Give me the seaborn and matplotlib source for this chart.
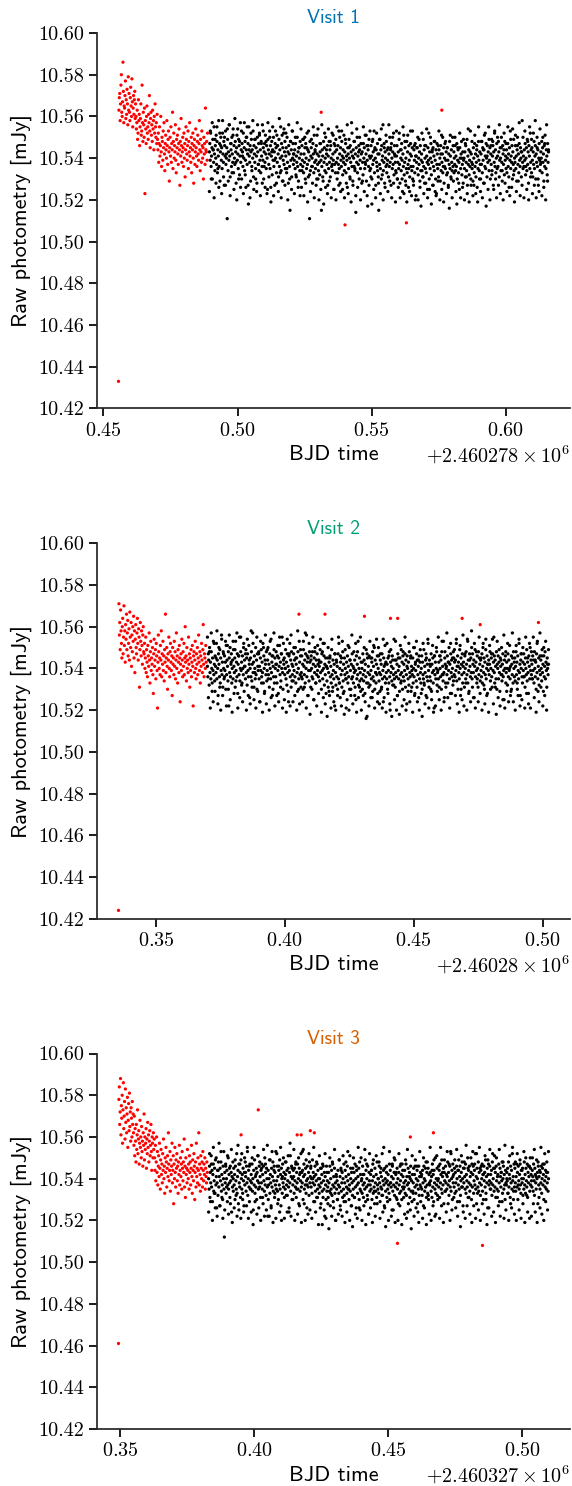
import numpy as np
import pandas as pd
import matplotlib
matplotlib.use("Agg")
import matplotlib.pyplot as plt
import seaborn as sns
from matplotlib.ticker import MultipleLocator, ScalarFormatter, FormatStrFormatter

# ---------------- data ----------------
# Flux values are stored as offsets from FLUX_BASE in units of 1e-3 mJy.
FLUX_BASE = 10.5
VISIT_TITLES = ["Visit 1", "Visit 2", "Visit 3"]
VISIT_COLORS = ["#0173B2", "#029E73", "#D55E00"]
Y_TICKS = [10.42, 10.44, 10.46, 10.48, 10.50, 10.52, 10.54, 10.56, 10.58, 10.60]

# Visit 1 -------------------------------------------------------------
V1_RAMP_T = (2460278.4556, 2460278.4888)   # trimmed start (red)
V1_KEPT_T = (2460278.4895, 2460278.6160)   # kept data (black)
V1_RAMP = [-67,
    63,69,71,58,66,75,80,62,60,67,86,72,57,65,64,70,77,59,68,61,
    73,66,56,79,63,71,62,58,69,74,65,60,78,67,55,64,70,61,68,72,
    59,66,
    60,54,57,63,49,52,68,58,61,46,55,59,66,51,53,75,57,48,62,56,
    50,64,23,58,54,47,60,65,52,55,49,61,57,70,53,45,59,62,51,56,
    48,63,54,58,44,60,52,66,55,50,57,47,61,
    49,44,52,38,47,55,41,46,60,43,36,50,48,39,53,45,57,42,34,47,
    51,44,40,58,46,37,49,53,43,29,45,50,41,55,38,47,44,62,35,48,
    52,40,46,43,56,39,33,49,45,51,42,37,47,54,44,27,48,41,59,46,
    38,43,50,45,36,52,40,47,31,44,55,49,42,39,46,53,35,48,43,57,
    41,45,38,50,33,47,44,52,40,28,46,49,37,43,54,45,41,36,48,51,
    42,39,47,58,44,34,49,43,38,53,46,40,45,30,50,42,47,37,64,44,
    43,48,39,52]
V1_KEPT = [
    43,47,39,52,36,41,45,30,49,44,38,55,42,34,46,40,51,37,48,33,
    44,41,58,36,47,29,43,50,39,45,35,52,42,38,48,27,46,41,53,37,
    40,45,11,49,34,43,39,56,41,31,47,44,36,50,42,38,54,33,46,40,
    37,48,43,28,45,51,39,42,35,49,46,32,41,57,38,44,30,47,43,36,
    52,40,45,34,48,39,26,44,50,37,42,47,18,55,41,38,46,29,43,49,
    36,44,40,53,31,46,42,38,49,35,45,41,28,50,43,37,47,34,52,39,
    44,33,48,41,36,56,39,45,30,43,47,38,51,42,35,46,40,25,49,44,
    37,42,53,35,46,19,41,48,32,44,39,50,36,43,27,47,40,45,33,51,
    38,46,42,31,49,36,44,40,55,34,47,41,29,45,39,52,37,43,48,35,
    41,45,33,50,38,43,28,46,42,36,15,48,39,44,31,53,40,47,37,42,
    39,44,35,47,32,41,38,50,36,43,29,45,40,34,48,37,42,26,46,39,
    36,49,33,42,38,45,30,47,40,35,52,37,44,31,43,39,11,48,34,41,
    45,36,40,28,47,42,33,51,38,44,35,39,46,30,42,37,54,34,41,38,
    32,43,47,39,15,36,44,41,29,48,38,45,34,40,50,33,42,37,46,27,
    41,35,48,38,44,31,46,40,36,52,34,42,39,25,47,37,43,33,49,38,
    44,30,40,46,37,53,35,42,28,45,39,36,48,41,32,44,38,51,34,43,
    37,47,33,41,39,26,45,42,35,49,40,31,46,38,43,57,36,41,29,44,
    40,36,48,34,42,14,45,38,50,33,41,37,46,30,44,39,35,47,42,28,
    43,38,32,47,40,45,35,51,37,42,29,46,39,17,44,36,49,41,34,40,
    35,46,41,30,48,37,43,39,53,33,45,40,27,44,38,36,47,42,31,15,
    42,37,49,35,44,30,46,39,41,56,34,38,45,28,43,40,36,48,33,44,
    39,45,31,42,36,50,38,44,27,47,40,35,43,37,52,32,46,41,38,34,
    33,41,46,30,38,43,35,49,37,28,44,40,34,47,39,24,42,36,51,32,
    38,45,29,40,35,48,33,43,37,26,46,39,31,42,53,36,41,34,45,30,
    36,27,44,39,33,47,41,22,38,45,35,50,32,40,37,43,29,46,34,39,
    42,34,38,31,49,36,44,28,40,35,46,33,41,38,25,45,37,52,30,43,
    35,40,47,32,38,43,27,45,36,41,34,48,39,30,44,23,37,42,35,46,
    31,44,37,40,29,46,34,51,38,42,33,36,45,28,40,47,35,39,43,32,
    45,33,39,26,42,37,48,35,41,31,44,38,34,50,36,29,43,40,37,46,
    34,41,36,47,30,39,44,33,38,25,45,40,35,42,48,32,37,43,28,39,
    40,35,43,31,46,38,34,49,27,41,37,44,32,39,36,53,30,42,38,35,
    37,29,45,40,33,47,36,42,31,38,44,26,41,35,48,39,34,43,37,30,
    42,37,48,33,45,39,28,44,51,36,41,35,47,40,31,46,38,43,55,34,
    39,45,30,42,37,49,34,41,46,27,43,38,52,36,44,33,40,47,35,41,
    36,48,43,31,39,45,40,34,50,38,29,46,42,37,44,32,48,39,41,35,
    44,33,40,47,36,42,26,45,39,53,35,41,38,46,30,43,37,49,34,40,
    38,46,35,41,29,44,50,37,42,33,47,39,36,45,40,31,43,58,38,35,
    41,36,44,39,47,32,40,45,34,49,37,43,28,46,41,35,52,38,44,33,
    45,39,31,43,37,48,35,41,46,30,42,38,50,36,44,27,40,47,39,34,
    37,43,40,48,33,45,38,42,29,46,36,51,39,35,44,41,32,47,38,43]
# second (interleaved) half of the kept cadence
V1_KEPT_B = [
    24,53,30,57,44,21,49,28,55,35,26,52,46,23,58,31,50,27,42,54,
    29,56,22,47,33,51,25,59,38,20,54,30,48,26,53,41,23,57,32,50,
    55,27,44,21,52,34,58,25,49,30,24,56,37,51,22,47,28,53,36,26,
    48,23,57,31,50,26,43,55,22,39,53,28,46,24,59,33,21,51,29,54,
    27,52,35,20,56,30,48,25,53,42,23,50,31,57,26,45,22,54,34,49,
    22,50,28,45,19,53,32,24,49,36,55,21,43,27,51,30,20,47,25,56,
    31,18,52,26,44,23,54,29,48,21,37,51,25,46,20,55,33,27,50,24,
    53,25,40,21,49,28,56,23,45,30,19,52,27,48,35,22,54,26,43,50,
    20,47,29,55,24,38,51,22,46,27,53,31,18,49,25,44,21,52,34,28,
    49,23,54,32,20,47,26,51,37,24,56,29,45,21,50,28,42,19,53,30,
    26,52,21,44,30,55,23,48,27,19,51,35,24,47,22,53,29,46,20,41,
    45,20,49,26,17,52,31,23,46,28,54,21,39,25,50,18,44,27,48,24,
    22,47,29,53,20,42,25,50,19,36,48,23,45,27,16,51,30,21,46,33,
    50,24,18,45,28,52,21,40,26,49,20,47,31,23,54,19,43,27,48,22,
    27,51,23,46,19,55,30,24,48,21,44,28,52,17,41,25,49,20,46,32,
    48,25,53,30,21,50,27,56,23,45,34,20,52,28,47,24,55,31,22,49,
    26,54,32,19,51,24,46,29,57,22,43,27,50,21,53,36,25,48,20,55,
    31,49,23,52,27,58,21,45,30,24,54,38,22,50,26,47,20,56,29,44]
V1_OUT_T = [2460278.5312, 2460278.5762, 2460278.5401, 2460278.5630]
V1_OUT = [62, 63, 8, 9]

# Visit 2 -------------------------------------------------------------
V2_RAMP_T = (2460280.3355, 2460280.3695)
V2_KEPT_T = (2460280.3700, 2460280.5023)
V2_RAMP = [-76,
    71,56,62,49,68,58,52,45,60,64,47,55,70,51,58,43,61,54,66,49,
    57,63,46,52,59,44,67,55,50,62,41,56,48,60,53,65,45,58,38,54,
    61,50,47,57,64,52,44,59,55,31,49,62,53,46,58,51,42,56,60,48,
    47,52,40,45,55,38,49,43,36,51,46,41,57,44,33,48,53,39,45,42,
    50,37,28,47,54,41,44,49,35,52,46,39,21,43,56,48,40,45,37,51,
    44,58,36,47,42,53,39,46,34,49,43,66,38,45,50,41,30,47,44,55,
    40,36,48,52,43,39,46,27,50,42,45,37,53,41,48,35,44,57,40,46,
    33,49,43,38,51,45,24,42,47,39,54,44,36,48,41,52,37,45,60,43,
    46,34,50,40,44,38,55,42,47,31,45,39,49,36,43,51,41,22,46,48,
    38,44,53,40,35,47,42,50,37,45,56,43,39,48,33,46,41,52,44,38,
    49,61,42,36,47,45,40,51,43]
V2_KEPT = [
    41,36,47,44,32,50,38,43,35,48,40,29,45,39,53,37,42,34,46,41,
    38,52,35,44,40,27,47,42,36,49,33,45,39,56,37,43,31,48,40,35,
    46,39,43,30,51,37,44,41,34,48,22,45,38,50,36,42,47,33,40,44,
    35,49,41,38,45,31,53,39,43,36,47,28,42,46,37,55,34,40,48,39,
    43,33,46,40,37,52,29,44,41,35,49,38,45,32,47,39,36,51,42,26,
    40,45,36,48,34,42,57,38,43,31,46,40,35,50,37,44,30,47,41,39,
    47,35,41,24,45,39,49,36,43,38,52,33,46,40,29,44,42,37,48,34,
    39,44,50,37,42,31,47,40,35,54,38,43,27,46,41,36,49,33,45,40,
    36,48,42,33,46,39,28,45,41,51,37,43,34,47,40,55,38,30,44,42,
    45,37,40,49,35,43,32,47,38,41,24,46,39,52,36,44,31,48,42,37,
    41,34,47,39,44,36,50,33,42,45,38,29,48,40,35,53,43,37,46,31,
    38,46,35,42,30,49,41,37,44,33,47,40,56,36,43,27,45,39,34,48,
    43,39,31,46,40,36,48,35,42,25,45,38,50,41,33,44,37,47,39,42,
    36,44,41,34,49,38,43,30,47,39,35,52,40,46,32,42,37,45,28,41,
    34,40,45,31,38,43,27,46,36,41,33,49,37,29,44,39,35,42,22,47,
    38,32,44,36,41,30,47,35,52,33,40,26,43,37,45,31,39,48,34,42,
    29,45,37,40,35,21,43,38,46,33,41,36,50,30,44,39,27,42,35,47,
    36,41,33,48,38,44,31,39,25,46,35,42,37,53,32,40,45,34,38,29,
    43,35,40,30,47,37,34,44,39,28,42,36,49,33,17,45,38,41,31,46,
    37,32,45,39,35,43,26,48,36,41,34,50,30,44,38,33,42,37,46,28,
    40,46,34,38,29,44,37,42,31,47,35,39,24,45,41,36,51,33,43,38,
    35,42,30,45,39,33,48,36,20,43,38,41,34,46,32,40,37,54,35,44,
    31,38,44,36,42,27,47,39,35,41,29,45,37,33,49,38,43,30,46,36,
    42,34,39,47,31,44,37,23,46,40,35,43,32,48,38,36,45,29,41,39,
    37,45,33,40,36,50,28,42,39,34,47,31,44,37,41,26,46,35,43,38,
    33,40,46,30,43,37,35,49,32,41,38,44,27,45,36,42,34,52,39,31,
    44,36,41,34,47,29,42,38,45,33,39,21,46,37,43,35,40,48,32,38,
    39,35,43,31,46,40,36,44,30,48,37,41,34,53,38,26,45,42,33,40,
    41,37,46,33,43,39,50,35,42,28,47,38,44,36,40,32,48,45,37,43,
    36,44,39,52,34,41,46,30,43,38,35,49,40,27,45,42,37,47,33,41,
    43,38,31,46,40,35,48,42,37,54,33,44,39,29,47,41,36,45,38,50,
    35,47,42,38,44,26,41,49,36,43,39,33,46,40,31,48,37,45,42,34,
    44,39,36,47,33,41,52,38,45,30,43,37,49,35,40,46,28,42,39,44,
    37,42,48,34,40,45,36,31,47,39,43,55,38,33,44,41,35,48,30,42,
    40,46,35,43,38,29,45,41,37,50,34,42,47,36,39,25,44,40,46,33,
    38,43,40,32,47,36,44,39,51,35,41,29,46,42,37,45,33,48,40,36,
    45,34,41,48,37,43,30,46,39,35,52,38,42,27,44,40,47,36,33,43,
    39,47,36,42,31,45,40,37,49,34,43,38,28,46,41,35,50,39,44,37,
    42,35,46,39,44,33,48,40,36,43,30,47,38,53,35,41,45,32,39,46,
    37,44,40,34,49,38,42,29,46,36,41,48,35,43,39,31,45,40,37,42]
V2_KEPT_B = [
    55,26,48,21,57,33,24,52,29,45,58,23,50,31,20,54,27,47,36,53,
    22,51,30,56,25,43,19,53,28,49,34,57,21,46,26,55,32,24,50,41,
    47,20,54,27,44,23,58,31,52,25,38,21,55,29,48,24,53,33,19,50,
    28,56,23,49,35,20,53,26,46,30,57,22,42,27,51,24,55,31,47,21,
    52,25,40,19,54,29,47,22,56,34,24,50,27,45,20,58,30,23,49,36,
    24,53,31,57,21,46,27,52,18,44,30,55,25,48,33,22,51,28,43,54,
    19,48,26,52,23,41,17,50,29,45,21,54,31,24,47,20,43,27,55,33,
    46,22,53,28,18,49,35,25,51,20,44,30,56,23,40,27,52,19,48,26,
    31,55,20,43,27,50,24,16,47,33,22,53,26,45,29,51,21,38,54,24,
    50,23,47,30,21,54,26,42,19,52,28,46,23,49,17,44,32,25,53,20,
    27,45,18,51,34,22,48,25,55,20,41,29,52,24,46,31,19,50,27,43,
    53,24,44,20,49,28,17,52,33,23,47,26,54,21,42,30,25,51,19,46,
    22,50,29,55,25,46,20,53,37,24,48,31,57,26,43,21,52,28,45,34,
    49,27,54,23,41,19,51,30,25,56,22,47,33,20,53,28,44,24,58,31,
    26,52,21,48,35,24,55,28,45,20,50,32,23,54,27,42,19,51,30,47,
    54,23,46,31,18,53,26,49,22,44,37,25,56,21,48,29,52,24,40,27,
    30,57,24,43,20,51,33,27,54,22,47,25,50,36,21,55,28,45,23,52,
    21,48,35,55,26,44,19,52,29,24,57,31,46,22,50,27,53,20,42,49]
V2_OUT_T = [2460280.4055, 2460280.4156, 2460280.4309, 2460280.4410,
            2460280.4438, 2460280.4688, 2460280.4758, 2460280.4984]
V2_OUT = [66, 66, 65, 64, 64, 64, 61, 62]

# Visit 3 -------------------------------------------------------------
V3_RAMP_T = (2460327.3494, 2460327.3825)
V3_KEPT_T = (2460327.3830, 2460327.5097)
V3_RAMP = [-39,
    78,84,66,72,88,61,75,69,80,57,73,86,64,70,77,59,83,67,74,62,
    71,79,55,68,76,63,81,65,72,58,74,69,60,77,66,71,
    62,56,70,51,64,58,48,66,54,61,73,52,59,63,47,57,68,55,60,50,
    65,53,58,46,62,56,71,49,60,54,57,64,45,59,52,67,55,61,48,58,
    63,51,56,66,53,44,60,57,50,62,54,59,
    50,44,56,39,48,60,43,53,37,46,51,41,57,45,35,49,54,42,47,38,
    52,44,59,40,46,33,50,43,55,48,36,45,51,41,62,47,39,44,53,34,
    49,42,46,57,38,44,51,28,47,40,55,43,36,49,45,52,39,46,33,48,
    42,56,37,44,50,41,47,35,53,45,39,48,43,59,36,46,31,50,42,45,
    38,54,44,40,47,35,51,43,48,37,45,56,41,33,49,44,39,52,46,30,
    43,48,36,57,41,45,38,50,44,62,37,47,42,34,51,45,40,48,36,53,
    44,39,47,42,50,35,45,41,38,48,43]
V3_KEPT = [
    40,35,46,31,43,38,51,36,44,29,42,47,34,39,45,33,49,37,41,26,
    38,44,32,48,36,41,27,45,39,53,34,42,37,30,46,40,35,12,43,38,
    47,33,40,44,29,37,50,35,42,38,31,46,39,43,24,41,36,48,34,45,
    37,42,30,46,39,35,52,33,41,44,28,47,38,36,43,31,49,40,35,42,
    33,45,39,27,43,37,48,41,34,46,38,55,32,40,44,36,29,47,39,35,
    42,38,47,34,40,25,44,37,49,33,41,36,45,30,43,39,51,35,38,46,
    36,41,31,44,38,47,35,42,28,46,39,34,50,37,43,32,45,40,36,22,
    44,37,40,49,33,42,38,26,45,36,41,48,34,39,46,31,43,37,53,35,
    39,46,34,41,30,44,37,49,35,42,27,45,40,33,47,38,36,43,31,40,
    35,42,48,37,44,32,39,45,36,24,43,38,51,34,41,46,30,40,37,44,
    41,33,45,39,36,48,31,43,38,47,35,40,28,45,42,34,39,52,36,43,
    38,44,30,41,47,35,42,37,45,33,39,26,46,40,36,43,32,48,38,41,
    45,36,40,33,49,38,43,29,41,37,46,34,42,39,31,47,35,44,40,37,
    33,40,36,45,28,38,42,34,47,31,39,35,43,22,41,37,30,46,34,39,
    36,31,43,38,34,46,27,40,35,44,32,48,37,29,41,36,45,33,38,20,
    42,35,39,30,44,37,33,49,36,41,25,45,34,38,43,31,40,35,47,32,
    38,44,29,41,36,33,46,39,35,42,30,37,51,34,40,27,43,38,32,45,
    35,39,43,31,47,36,40,26,44,37,33,41,38,45,30,48,35,42,34,39,
    40,33,46,37,31,42,38,35,49,29,44,36,40,32,46,37,23,43,39,34,
    37,42,35,44,30,39,47,33,41,36,28,45,38,34,42,31,48,37,35,40,
    33,46,38,29,43,36,41,35,52,32,39,44,37,27,45,40,34,38,43,31,
    39,35,42,37,33,47,30,44,38,36,41,25,46,34,40,37,43,32,49,36,
    42,31,38,45,35,40,28,43,37,33,46,39,34,42,30,47,36,41,35,38,
    36,44,33,39,47,32,41,37,24,45,38,35,43,31,40,46,34,39,29,42,
    34,38,45,30,42,36,49,33,40,37,44,28,39,35,46,32,41,37,43,36,
    41,35,32,44,38,27,46,40,34,39,36,48,31,43,37,33,45,30,42,38,
    37,43,39,34,41,31,47,36,42,29,44,38,35,50,33,40,37,45,32,39,
    40,36,44,31,47,38,42,35,49,33,41,37,45,28,43,39,34,46,38,42,
    35,41,48,37,43,32,39,46,36,53,34,40,44,30,47,38,42,36,45,33,
    43,38,34,46,40,29,44,37,49,35,41,46,32,39,43,36,48,40,27,45,
    38,45,41,35,47,33,42,39,36,50,31,44,38,46,34,41,37,43,30,47,
    36,42,46,33,39,44,37,52,35,41,28,45,40,36,48,34,43,38,45,32,
    44,37,40,47,34,42,30,46,39,43,36,49,33,41,38,45,26,42,47,37,
    39,46,35,42,38,44,32,48,37,40,45,34,51,36,43,31,46,39,35,41,
    42,34,47,38,29,45,41,36,43,39,48,33,40,46,35,42,37,30,44,38,
    37,43,39,45,33,48,36,42,40,31,46,38,44,35,52,39,41,34,47,36,
    45,38,34,41,47,36,43,30,46,39,35,42,49,37,33,44,40,38,45,32,
    40,35,48,37,42,33,45,39,36,47,31,43,38,41,46,34,50,37,42,39,
    36,44,41,34,47,39,32,45,42,38,35,49,40,43,28,46,37,41,44,35,
    43,38,46,33,40,45,37,42,30,47,39,36,44,41,35,48,38,43,34,40]
V3_KEPT_B = [
    24,52,29,47,20,55,33,26,50,22,44,57,27,48,31,21,53,25,46,36,
    51,23,45,28,54,19,40,26,49,32,22,56,25,47,21,52,30,24,50,43,
    27,53,21,46,35,24,50,18,55,29,42,23,51,26,48,20,45,31,54,22,
    47,25,56,30,22,49,27,53,19,44,33,21,52,28,46,24,55,20,41,50,
    21,48,32,24,51,26,57,22,45,30,54,20,47,35,23,50,27,43,19,53,
    54,28,20,49,37,23,52,25,46,21,40,55,29,24,48,31,18,51,26,45,
    18,46,25,52,21,43,28,16,50,33,22,47,26,54,20,41,30,23,49,27,
    44,22,51,29,19,48,24,53,35,20,45,27,17,50,31,23,46,21,55,26,
    25,50,20,42,27,54,18,47,30,23,52,26,44,19,49,34,22,51,28,40,
    48,21,45,32,24,55,26,17,46,29,20,53,38,22,47,25,50,19,43,30,
    20,52,27,47,18,44,31,23,49,21,54,28,41,25,16,51,33,22,46,26,
    46,24,19,53,29,42,21,50,26,45,18,48,32,23,55,20,44,27,49,22,
    23,51,30,46,21,55,27,43,19,49,34,24,53,28,47,20,52,25,41,31,
    49,26,54,22,44,29,17,51,36,24,48,21,56,27,45,31,23,50,19,53,
    27,47,21,52,33,25,55,20,46,28,42,23,51,30,18,49,26,54,35,22,
    52,24,45,19,50,31,27,54,22,43,29,48,21,56,25,40,33,20,51,28,
    26,55,30,23,48,20,52,37,25,47,21,44,28,53,19,50,32,24,46,21,
    45,22,50,28,54,24,41,19,48,31,26,55,23,47,20,52,29,43,25,53]
V3_OUT_T = [2460327.3951, 2460327.4015, 2460327.4160, 2460327.4175, 2460327.4209,
            2460327.4224, 2460327.4534, 2460327.4582, 2460327.4668, 2460327.4851]
V3_OUT = [61, 73, 61, 61, 63, 62, 9, 60, 62, 8]

VISITS = [
    (V1_RAMP_T, V1_RAMP, V1_KEPT_T, V1_KEPT, V1_KEPT_B, V1_OUT_T, V1_OUT),
    (V2_RAMP_T, V2_RAMP, V2_KEPT_T, V2_KEPT, V2_KEPT_B, V2_OUT_T, V2_OUT),
    (V3_RAMP_T, V3_RAMP, V3_KEPT_T, V3_KEPT, V3_KEPT_B, V3_OUT_T, V3_OUT),
]


def visit_frame(ramp_t, ramp, kept_t, kept, kept_b, out_t, out):
    t = np.concatenate([np.linspace(ramp_t[0], ramp_t[1], len(ramp)),
                        np.linspace(kept_t[0], kept_t[1], len(kept)),
                        np.linspace(kept_t[0], kept_t[1], len(kept_b)),
                        np.asarray(out_t, dtype=float)])
    f = FLUX_BASE + np.asarray(ramp + kept + kept_b + out, dtype=float) / 1000.0
    status = (["clipped"] * len(ramp) + ["kept"] * (len(kept) + len(kept_b))
              + ["clipped"] * len(out))
    return pd.DataFrame({"time": t, "flux": f, "status": status})


# ---------------- style ----------------
sns.set_theme(style="ticks")
plt.rcParams["font.family"] = ["cmr10", "DejaVu Serif"]
plt.rcParams["mathtext.fontset"] = "cm"
plt.rcParams["axes.formatter.use_mathtext"] = True
plt.rcParams["axes.unicode_minus"] = False

fig, axes = plt.subplots(3, 1, figsize=(5.72, 14.86), dpi=100)
fig.subplots_adjust(left=97 / 572, right=570 / 572, top=1 - 33 / 1486,
                    bottom=1 - 1429 / 1486, hspace=0.359)

for ax, visit, title, tcol in zip(axes, VISITS, VISIT_TITLES, VISIT_COLORS):
    df = visit_frame(*visit)
    sns.scatterplot(data=df, x="time", y="flux", hue="status",
                    palette={"kept": "black", "clipped": "red"},
                    s=5.5, linewidth=0, legend=False, ax=ax)
    ax.set_ylim(Y_TICKS[0], Y_TICKS[-1])
    ax.set_yticks(Y_TICKS)
    ax.yaxis.set_major_formatter(FormatStrFormatter("%.2f"))
    ax.xaxis.set_major_locator(MultipleLocator(0.05))
    fmt = ScalarFormatter(useOffset=True, useMathText=True)
    ax.xaxis.set_major_formatter(fmt)
    ax.tick_params(axis="both", labelsize=14.5, colors="black")
    ax.xaxis.get_offset_text().set_fontsize(14.5)
    ax.set_xlabel("BJD time", fontfamily="cmss10", fontsize=16, color="black")
    ax.set_ylabel("Raw photometry [mJy]", fontfamily="cmss10", fontsize=16, color="black")
    ax.set_title(title, fontfamily="cmss10", fontsize=14, color=tcol, pad=7)
    sns.despine(ax=ax)

fig.savefig("out.png", dpi=100)
